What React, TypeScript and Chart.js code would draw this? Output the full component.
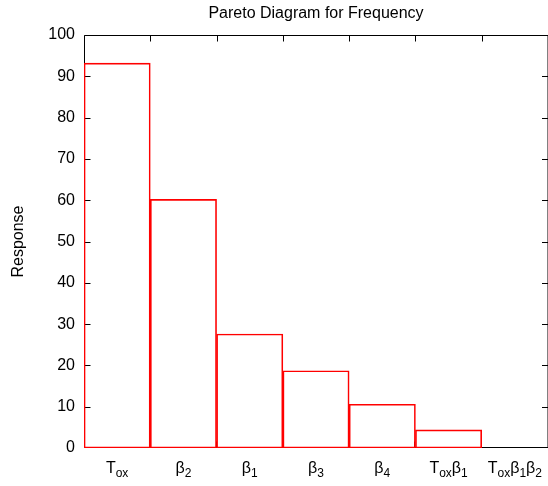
import React, { useEffect, useRef } from 'react';
import { Chart, registerables } from 'chart.js';

Chart.register(...registerables);

const chartTitle = 'Pareto Diagram for Frequency';
const yAxisTitle = 'Response';
const categories = ['T_{ox}', 'β_{2}', 'β_{1}', 'β_{3}', 'β_{4}', 'T_{ox}β_{1}', 'T_{ox}β_{1}β_{2}'];
const responses = [93.2, 60.2, 27.6, 18.7, 10.6, 4.4, 0];
const yTickValues = [0, 10, 20, 30, 40, 50, 60, 70, 80, 90, 100];

const FONT = "'Liberation Sans', Arial, Helvetica, sans-serif";
const MAIN_SIZE = 16;
const SUB_SIZE = 12;

function parseLabel(s: string) {
  const parts: { text: string; sub: boolean }[] = [];
  const re = /_\{([^}]*)\}|([^_]+)/g;
  let m: RegExpExecArray | null;
  while ((m = re.exec(s))) {
    if (m[1] !== undefined) parts.push({ text: m[1], sub: true });
    else parts.push({ text: m[2], sub: false });
  }
  return parts;
}

const decorPlugin = {
  id: 'gnuplotDecor',
  beforeDatasetsDraw(chart: any) {
    const { ctx, chartArea, scales } = chart;
    const { left, right, top, bottom } = chartArea;
    const x = scales.x;
    const y = scales.y;
    const L = Math.round(left) + 0.5;
    const R = right;
    const T = Math.round(top) + 0.5;
    const B = Math.round(bottom) - 0.5;
    ctx.save();
    ctx.strokeStyle = '#000';
    ctx.lineWidth = 1;
    ctx.beginPath();
    ctx.moveTo(L, B);
    ctx.lineTo(L, T);
    ctx.lineTo(R, T);
    ctx.lineTo(R, B);
    ctx.lineTo(L, B);
    for (const v of yTickValues) {
      let py = Math.round(y.getPixelForValue(v)) + 0.5;
      if (py > B) py = B;
      ctx.moveTo(L, py);
      ctx.lineTo(L + 6, py);
      ctx.moveTo(R, py);
      ctx.lineTo(R - 6, py);
    }
    for (let i = 1; i < categories.length; i++) {
      const b = (x.getPixelForValue(i - 1) + x.getPixelForValue(i)) / 2;
      const pxTop = Math.round(b) + 0.5;
      const pxBottom = Math.round(b) - 0.5;
      ctx.moveTo(pxTop, T);
      ctx.lineTo(pxTop, T + 6);
      ctx.moveTo(pxBottom, B);
      ctx.lineTo(pxBottom, B - 6);
    }
    ctx.stroke();
    ctx.restore();
  },
  afterDraw(chart: any) {
    const { ctx, chartArea, scales } = chart;
    const { left, right, top, bottom } = chartArea;
    const x = scales.x;
    ctx.save();
    ctx.fillStyle = '#000';
    // title
    ctx.font = `${MAIN_SIZE}px ${FONT}`;
    ctx.textAlign = 'center';
    ctx.textBaseline = 'alphabetic';
    ctx.fillText(chartTitle, (left + right) / 2, 18);
    // y axis title
    ctx.save();
    ctx.textBaseline = 'middle';
    ctx.translate(19, (top + bottom) / 2);
    ctx.rotate(-Math.PI / 2);
    ctx.fillText(yAxisTitle, 0, 0);
    ctx.restore();
    // category labels with subscripts
    ctx.textAlign = 'left';
    ctx.textBaseline = 'alphabetic';
    categories.forEach((cat, i) => {
      const parts = parseLabel(cat);
      let width = 0;
      const widths = parts.map((p) => {
        ctx.font = `${p.sub ? SUB_SIZE : MAIN_SIZE}px ${FONT}`;
        const w = ctx.measureText(p.text).width;
        width += w;
        return w;
      });
      let cx = x.getPixelForValue(i) - width / 2;
      const baseY = bottom + 25;
      parts.forEach((p, k) => {
        ctx.font = `${p.sub ? SUB_SIZE : MAIN_SIZE}px ${FONT}`;
        ctx.fillText(p.text, cx, p.sub ? baseY + 4 : baseY);
        cx += widths[k];
      });
    });
    ctx.restore();
  },
};

export default function App() {
  const ref = useRef<HTMLCanvasElement | null>(null);
  useEffect(() => {
    document.body.style.margin = '0';
    document.body.style.overflow = 'hidden';
    if (!ref.current) return;
    const chart = new Chart(ref.current, {
      type: 'bar',
      data: {
        labels: categories,
        datasets: [
          {
            data: responses,
            backgroundColor: 'rgba(0,0,0,0)',
            borderColor: '#ff0000',
            borderWidth: 1,
            borderSkipped: false,
            categoryPercentage: 1,
            barPercentage: 1,
          },
        ],
      },
      options: {
        responsive: false,
        animation: false,
        events: [],
        layout: { padding: { left: 0, right: -1.5, top: 35, bottom: 38 } },
        plugins: {
          legend: { display: false },
          title: { display: false },
          tooltip: { enabled: false },
        },
        scales: {
          x: {
            type: 'category',
            display: false,
            offset: true,
          },
          y: {
            min: 0,
            max: 100,
            afterFit: (s: any) => {
              s.width = 84;
            },
            grid: { display: false, drawTicks: false },
            border: { display: false },
            ticks: {
              stepSize: 10,
              padding: 9,
              color: '#000',
              font: { family: FONT, size: MAIN_SIZE },
            },
          },
        },
      },
      plugins: [decorPlugin],
    });
    return () => chart.destroy();
  }, []);
  return <canvas ref={ref} width={548} height={486} style={{ display: 'block' }} />;
}
